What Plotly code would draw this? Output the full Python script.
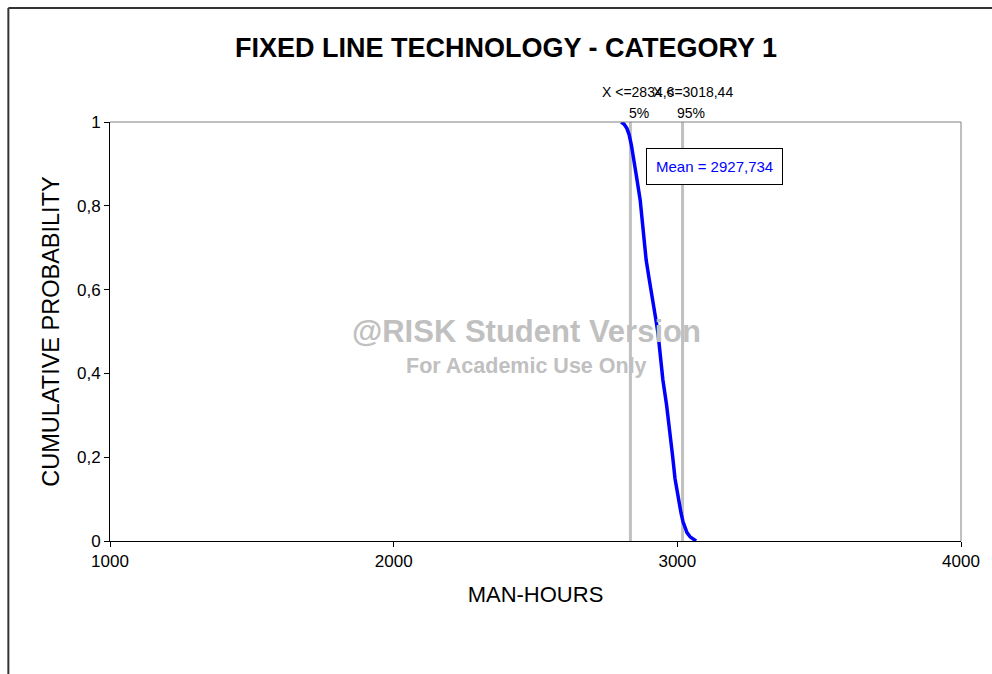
import plotly.graph_objects as go

# Descending cumulative distribution of simulated man-hours
man_hours = [2802, 2812, 2822, 2830, 2838, 2846, 2856, 2869, 2880, 2890, 2902,
             2914, 2924, 2932, 2941, 2949, 2962, 2974, 2983, 2992, 3002, 3013,
             3020, 3026, 3034, 3045, 3056, 3066]
cum_prob = [1.0, 0.995, 0.985, 0.97, 0.945, 0.915, 0.87, 0.814, 0.74, 0.671, 0.62,
            0.575, 0.53, 0.495, 0.44, 0.385, 0.325, 0.265, 0.205, 0.148, 0.105, 0.067,
            0.046, 0.032, 0.02, 0.01, 0.004, 0.0]

p5_value = 2834.6
p95_value = 3018.44
mean_value = 2927.734

p5_label = "X <=2834,6"
p95_label = "X <=3018,44"
mean_label = "Mean = 2927,734"

x_ticks = [1000, 2000, 3000, 4000]
y_ticks = [0, 0.2, 0.4, 0.6, 0.8, 1]

W, H = 992, 674
ML, MR, MT, MB = 110, 28, 122, 133
PW, PH = W - ML - MR, H - MT - MB

FONT = "Liberation Sans, Arial, sans-serif"
GRAY = "#c0c0c0"

fig = go.Figure()

# percentile marker lines
for xv in (p5_value, p95_value):
    fig.add_trace(go.Scatter(x=[xv, xv], y=[0, 1], mode="lines",
                             line=dict(color=GRAY, width=3),
                             hoverinfo="skip", showlegend=False))

fig.add_trace(go.Scatter(x=man_hours, y=cum_prob, mode="lines",
                         line=dict(color="#0000ff", width=3.5),
                         showlegend=False))

annotations = [
    dict(x=p5_value, y=1, xref="x", yref="y", yanchor="bottom", yshift=20,
         xshift=8, text=p5_label, showarrow=False,
         font=dict(family=FONT, size=14, color="#000")),
    dict(x=p95_value, y=1, xref="x", yref="y", yanchor="bottom", yshift=20,
         xshift=10, text=p95_label, showarrow=False,
         font=dict(family=FONT, size=14, color="#000")),
    dict(x=p5_value, y=1, xref="x", yref="y", yanchor="bottom", yshift=-1,
         xshift=9, text="5%", showarrow=False,
         font=dict(family=FONT, size=14, color="#000")),
    dict(x=p95_value, y=1, xref="x", yref="y", yanchor="bottom", yshift=-1,
         xshift=8, text="95%", showarrow=False,
         font=dict(family=FONT, size=14, color="#000")),
    dict(x=mean_value, y=0.894, xref="x", yref="y", xanchor="left", xshift=-11,
         text=mean_label, showarrow=False,
         bordercolor="#000", borderwidth=1, borderpad=9, bgcolor="#fff",
         font=dict(family=FONT, size=15, color="#0000ff")),
    # watermark
    dict(x=0.49, y=0.499, xref="paper", yref="paper",
         text="<b>@RISK Student Version</b>", showarrow=False,
         font=dict(family=FONT, size=31, color=GRAY)),
    dict(x=0.49, y=0.418, xref="paper", yref="paper",
         text="<b>For Academic Use Only</b>", showarrow=False,
         font=dict(family=FONT, size=21.5, color=GRAY)),
]

def px_x(px):
    return (px - ML) / PW

def px_y(py):
    return (H - MB - py) / PH

shapes = [
    # gray top and right frame of the plot area
    dict(type="line", xref="paper", yref="paper", x0=0, x1=1, y0=1, y1=1,
         line=dict(color="#808080", width=1)),
    dict(type="line", xref="paper", yref="paper", x0=1, x1=1, y0=0, y1=1,
         line=dict(color="#808080", width=1)),
    # outer chart border
    dict(type="line", xref="paper", yref="paper", x0=px_x(8), x1=px_x(W + 5),
         y0=px_y(8), y1=px_y(8), line=dict(color="#333", width=2)),
    dict(type="line", xref="paper", yref="paper", x0=px_x(8), x1=px_x(8),
         y0=px_y(8), y1=px_y(H + 5), line=dict(color="#333", width=2)),
]

fig.update_layout(
    width=W, height=H,
    margin=dict(l=ML, r=MR, t=MT, b=MB),
    paper_bgcolor="#fff", plot_bgcolor="#fff",
    separators=", ",
    font=dict(family=FONT, color="#000"),
    title=dict(text="<b>FIXED LINE TECHNOLOGY - CATEGORY 1</b>",
               x=506 / W, xanchor="center",
               y=1 - 48 / H, yanchor="middle",
               font=dict(family=FONT, size=27, color="#000")),
    xaxis=dict(range=[1000, 4000], tickvals=x_ticks, showgrid=False, zeroline=False,
               showline=True, linecolor="#000", linewidth=1,
               ticks="outside", ticklen=5, tickcolor="#000",
               tickfont=dict(size=17),
               title=dict(text="MAN-HOURS", font=dict(size=22), standoff=16)),
    yaxis=dict(range=[0, 1], tickvals=y_ticks, showgrid=False, zeroline=False,
               showline=True, linecolor="#000", linewidth=1,
               ticks="outside", ticklen=5, tickcolor="#000",
               tickfont=dict(size=17), tickformat=".1~f",
               title=dict(text="CUMULATIVE PROBABILITY", font=dict(size=23.5), standoff=10)),
    annotations=annotations,
    shapes=shapes,
)

fig.write_html("out.html")
